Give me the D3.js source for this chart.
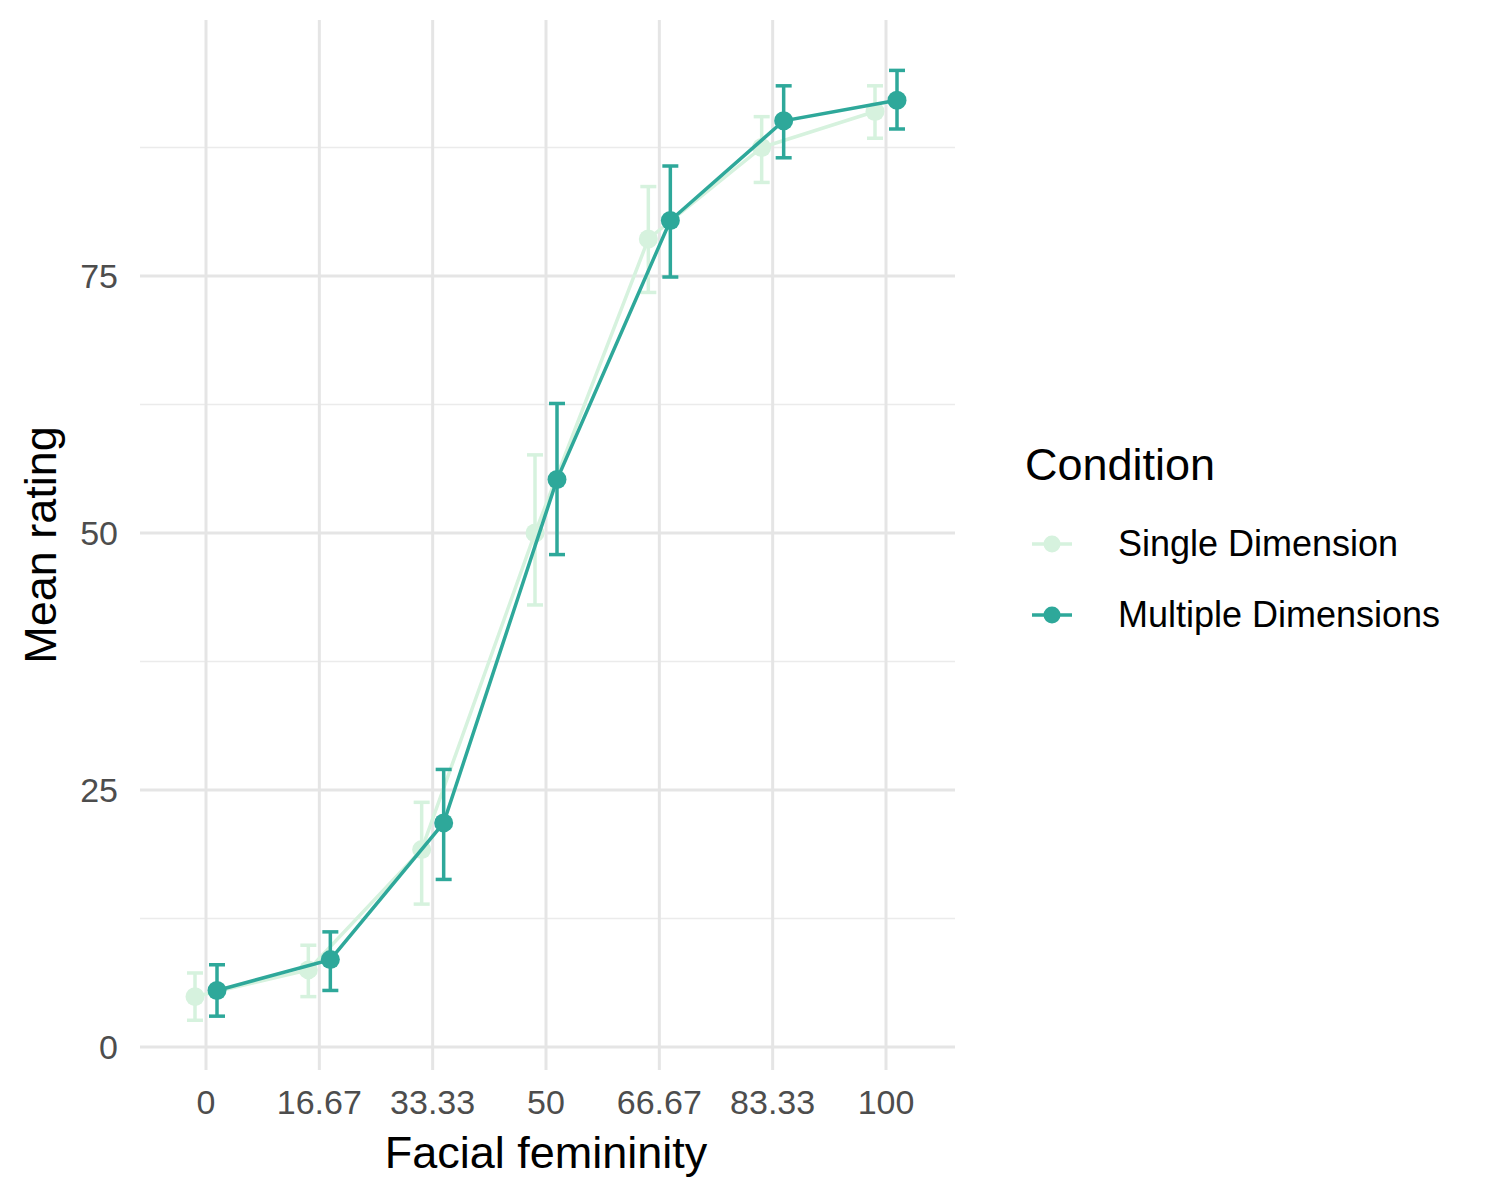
<!DOCTYPE html>
<html><head><meta charset="utf-8">
<script src="https://cdn.jsdelivr.net/npm/d3@7"></script>
<style>body{margin:0;background:#fff}text{font-family:"Liberation Sans",Arial,sans-serif}</style>
</head><body><svg id="c" width="1500" height="1200"></svg>
<script>
const levels = ["0", "16.67", "33.33", "50", "66.67", "83.33", "100"];
const seriesNames = ["Single Dimension", "Multiple Dimensions"];
const singleMean = [4.9, 7.5, 19.2, 50, 78.6, 87.5, 91];
const singleLo = [2.6, 4.9, 13.9, 43, 73.4, 84.1, 88.4];
const singleHi = [7.2, 9.9, 23.8, 57.6, 83.7, 90.5, 93.5];
const multiMean = [5.5, 8.5, 21.8, 55.2, 80.4, 90.1, 92.1];
const multiLo = [3, 5.5, 16.3, 47.9, 74.9, 86.5, 89.3];
const multiHi = [8, 11.2, 27, 62.6, 85.7, 93.5, 95];
const colors = ["#d6f2de", "#2ea89a"];

const svg = d3.select("#c");
const x = d3.scalePoint().domain(levels).range([206, 886]);
const y = d3.scaleLinear().domain([0, 100]).range([1047, 19]);
const L = 140, R = 955, T = 20, B = 1070;

const g = svg.append("g");
[12.5, 37.5, 62.5, 87.5].forEach(v => g.append("line").attr("x1", L).attr("x2", R).attr("y1", y(v)).attr("y2", y(v)).attr("stroke", "#ebebeb").attr("stroke-width", 1.5));
[0, 25, 50, 75].forEach(v => g.append("line").attr("x1", L).attr("x2", R).attr("y1", y(v)).attr("y2", y(v)).attr("stroke", "#e5e5e5").attr("stroke-width", 3));
levels.forEach(l => g.append("line").attr("x1", x(l)).attr("x2", x(l)).attr("y1", T).attr("y2", B).attr("stroke", "#e5e5e5").attr("stroke-width", 3));

[0, 25, 50, 75].forEach(v => svg.append("text").attr("x", 118).attr("y", y(v) + 12).attr("text-anchor", "end").attr("font-size", 34).attr("fill", "#4d4d4d").text(v));
levels.forEach(l => svg.append("text").attr("x", x(l)).attr("y", 1114).attr("text-anchor", "middle").attr("font-size", 34).attr("fill", "#4d4d4d").text(l));
svg.append("text").attr("x", 546).attr("y", 1168).attr("text-anchor", "middle").attr("font-size", 45).text("Facial femininity");
svg.append("text").attr("transform", "translate(56,545) rotate(-90)").attr("text-anchor", "middle").attr("font-size", 45).text("Mean rating");

const series = [
  {mean: singleMean, lo: singleLo, hi: singleHi, dx: -11},
  {mean: multiMean, lo: multiLo, hi: multiHi, dx: 11}
];
series.forEach((s, i) => {
  const c = colors[i], px = d => x(levels[d]) + s.dx;
  const idx = d3.range(levels.length);
  const eb = svg.append("g").attr("stroke", c).attr("stroke-width", 3.5);
  idx.forEach(d => {
    eb.append("line").attr("x1", px(d)).attr("x2", px(d)).attr("y1", y(s.lo[d])).attr("y2", y(s.hi[d]));
    [s.lo[d], s.hi[d]].forEach(v => eb.append("line").attr("x1", px(d) - 8).attr("x2", px(d) + 8).attr("y1", y(v)).attr("y2", y(v)));
  });
  svg.append("path").attr("d", d3.line().x(px).y(d => y(s.mean[d]))(idx)).attr("fill", "none").attr("stroke", c).attr("stroke-width", 3.5);
  svg.selectAll(null).data(idx).join("circle").attr("cx", px).attr("cy", d => y(s.mean[d])).attr("r", 9.5).attr("fill", c);
});

svg.append("text").attr("x", 1025).attr("y", 480).attr("font-size", 45).text("Condition");
seriesNames.forEach((n, i) => {
  const yy = 544 + i * 71;
  svg.append("line").attr("x1", 1032).attr("x2", 1072).attr("y1", yy).attr("y2", yy).attr("stroke", colors[i]).attr("stroke-width", 3.5);
  svg.append("circle").attr("cx", 1052).attr("cy", yy).attr("r", 8.5).attr("fill", colors[i]);
  svg.append("text").attr("x", 1118).attr("y", yy + 12).attr("font-size", 36).text(n);
});
</script></body></html>
